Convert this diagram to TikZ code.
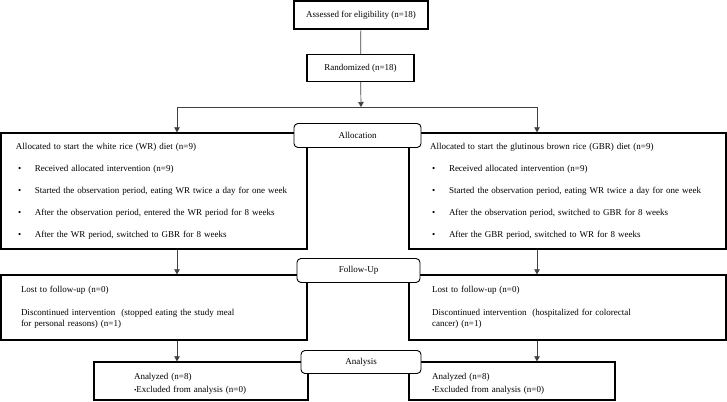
\documentclass[tikz,border=0pt]{standalone}
\usepackage{fontspec}
\setmainfont{Liberation Serif}
\usepackage{tikz}
\usetikzlibrary{arrows.meta, positioning}

\newcommand{\bul}[1]{\hspace*{2pt}\makebox[17pt][l]{\textbullet}\mbox{#1}}

\begin{document}
\begin{tikzpicture}[
  x=1pt, y=-1pt,
  every node/.style={font=\fontsize{9}{11}\selectfont},
  box/.style={rectangle, draw, line width=1.3pt, fill=white, align=center, inner sep=2pt},
  armbox/.style={box, align=left},
  stagebox/.style={rectangle, rounded corners=4pt, draw, line width=0.9pt, fill=white, align=center, minimum width=124pt, minimum height=24pt},
  line/.style={draw=black!75, line width=0.7pt},
  arr/.style={line, -{Triangle[length=5pt, width=5.5pt]}}
]
  \useasboundingbox (0,0) rectangle (727,401);

  % top
  \node[box, minimum width=134pt, minimum height=28pt] (assess) at (361,15) {Assessed for eligibility (n=18)};
  \node[box, minimum width=107pt, minimum height=27pt] (rand) at (360.5,68) {Randomized (n=18)};
  \coordinate (split) at (361,107);
  \coordinate (wrx) at (177,107);
  \coordinate (gbrx) at (537,107);

  % allocation
  \node[armbox, inner xsep=15pt, text width=276pt, minimum height=116pt] (wralloc) at (154,191) {%
    Allocated to start the white rice (WR) diet (n=9)\\[11pt]
    \bul{Received allocated intervention (n=9)}\\[11pt]
    \bul{Started the observation period, eating WR twice a day for one week}\\[11pt]
    \bul{After the observation period, entered the WR period for 8 weeks}\\[11pt]
    \bul{After the WR period, switched to GBR for 8 weeks}};
  \node[armbox, inner xsep=21pt, text width=275pt, minimum height=116pt] (gbralloc) at (567.5,191) {%
    Allocated to start the glutinous brown rice (GBR) diet (n=9)\\[11pt]
    \bul{Received allocated intervention (n=9)}\\[11pt]
    \bul{Started the observation period, eating WR twice a day for one week}\\[11pt]
    \bul{After the observation period, switched to GBR for 8 weeks}\\[11pt]
    \bul{After the GBR period, switched to WR for 8 weeks}};

  % follow-up
  \node[armbox, inner xsep=20pt, text width=266pt, minimum height=65pt] (wrfollow) at (154,307.5) {%
    Lost to follow-up (n=0)\\[12pt]
    Discontinued intervention\ \ (stopped eating the study meal\\
    for personal reasons) (n=1)};
  \node[armbox, inner xsep=23pt, text width=271pt, minimum height=65pt] (gbrfollow) at (567.5,307.5) {%
    Lost to follow-up (n=0)\\[12pt]
    Discontinued intervention\ \ (hospitalized for colorectal\\
    cancer) (n=1)};

  % analysis
  \node[armbox, inner xsep=40pt, text width=134pt, minimum height=38pt] (wranalysis) at (201,381) {%
    \rule{0pt}{12pt}Analyzed (n=8)\\[2pt]
    {\scriptsize\textbullet}Excluded from analysis (n=0)};
  \node[armbox, inner xsep=23pt, text width=160pt, minimum height=38pt] (gbranalysis) at (512,381) {%
    \rule{0pt}{12pt}Analyzed (n=8)\\[2pt]
    {\scriptsize\textbullet}Excluded from analysis (n=0)};

  % stage labels
  \node[stagebox, minimum width=127pt] (allocation) at (357.5,135.5) {Allocation};
  \node[stagebox, minimum width=123pt] (followup) at (358.5,270.5) {Follow-Up};
  \node[stagebox, minimum width=120pt, minimum height=23pt] (analysis) at (361,362) {Analysis};

  % connectors
  \draw[line] (assess) -- (rand);
  \draw[arr] (rand) -- (split);
  \draw[line] (wrx) -- (gbrx);
  \draw[arr] (wrx) -- (wralloc.north -| wrx);
  \draw[arr] (gbrx) -- (gbralloc.north -| gbrx);
  \draw[arr] (wralloc.south -| wrx) -- (wrfollow.north -| wrx);
  \draw[arr] (gbralloc.south -| gbrx) -- (gbrfollow.north -| gbrx);
  \draw[arr] (wrfollow.south -| wrx) -- (wranalysis.north -| wrx);
  \draw[arr] (gbrfollow.south -| gbrx) -- (gbranalysis.north -| gbrx);
\end{tikzpicture}
\end{document}
